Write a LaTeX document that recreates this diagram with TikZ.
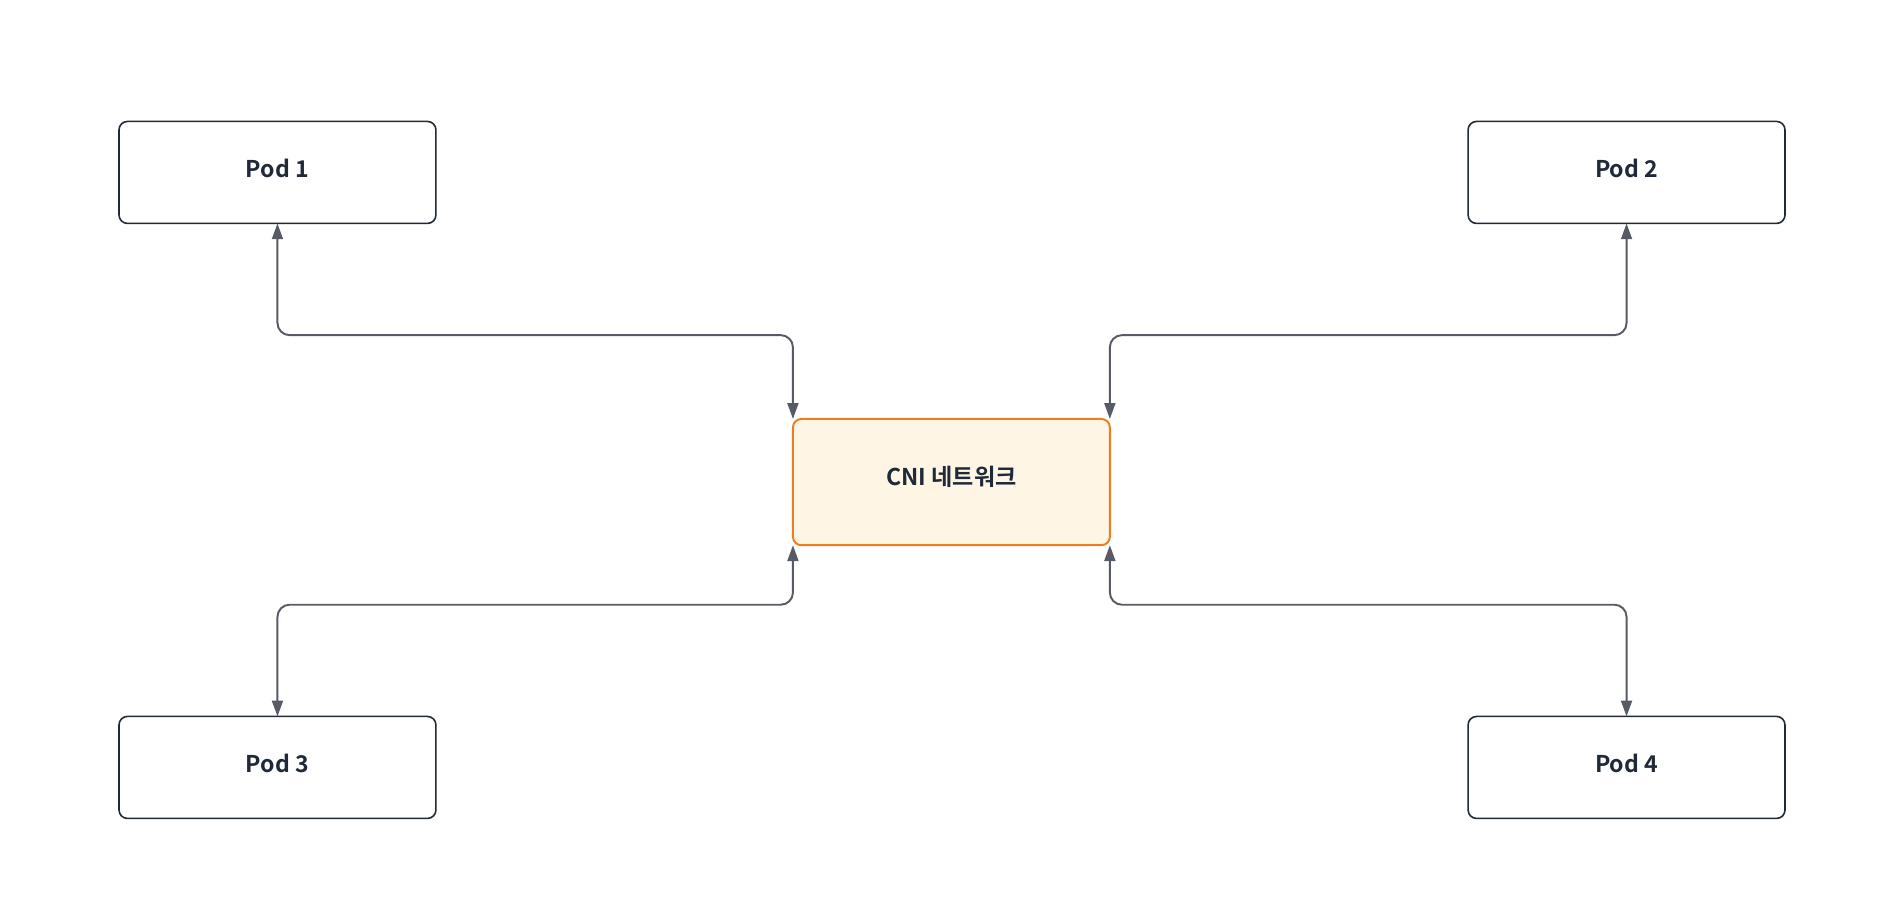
\documentclass[tikz,border=0pt]{standalone}
\usepackage{fontspec}
\setmainfont{Noto Sans CJK KR}[BoldFont={* Bold}]
\usetikzlibrary{arrows.meta}
\definecolor{edge}{HTML}{1F2937}
\definecolor{conn}{HTML}{565B66}
\definecolor{orng}{HTML}{EE7D1F}
\definecolor{cream}{HTML}{FFF5E5}
\begin{document}
\begin{tikzpicture}[x=1pt,y=-1pt,
  pod/.style={draw=edge,line width=1.3pt,rounded corners=7pt,fill=white,outer sep=0pt,minimum width=261pt,minimum height=84pt,font=\fontsize{19}{22}\selectfont\bfseries,text=edge},
  cni/.style={pod,draw=orng,line width=1.6pt,fill=cream,minimum height=104pt},
  con/.style={draw=conn,line width=1.6pt,rounded corners=10pt,{Triangle[length=13pt,width=9pt]}-{Triangle[length=13pt,width=9pt]}},
  lbl/.style={font=\fontsize{19}{22}\selectfont\bfseries,text=edge}]
\useasboundingbox (0,0) rectangle (1568,752);
\node[pod] (p1) at (228.5,142) {};
\node[pod] (p2) at (1339.5,142) {};
\node[pod] (p3) at (228.5,632) {};
\node[pod] (p4) at (1339.5,632) {};
\node[cni] (c) at (783.5,397) {};
\node[lbl] (t1) at (228.5,139) {Pod 1};
\node[lbl] (t2) at (1339.5,139) {Pod 2};
\node[lbl] (t3) at (228.5,629) {Pod 3};
\node[lbl] (t4) at (1339.5,629) {Pod 4};
\node[lbl] (tc) at (783.5,393) {CNI 네트워크};
\coordinate (a1) at (228.5,276); \coordinate (b1) at (653,276);
\coordinate (a2) at (1339.5,276); \coordinate (b2) at (914,276);
\coordinate (a3) at (228.5,498); \coordinate (b3) at (653,498);
\coordinate (a4) at (1339.5,498); \coordinate (b4) at (914,498);
\draw[con] (p1.south) -- (a1) -- (b1) -- (c.north west);
\draw[con] (p2.south) -- (a2) -- (b2) -- (c.north east);
\draw[con] (c.south west) -- (b3) -- (a3) -- (p3.north);
\draw[con] (c.south east) -- (b4) -- (a4) -- (p4.north);
\end{tikzpicture}
\end{document}
